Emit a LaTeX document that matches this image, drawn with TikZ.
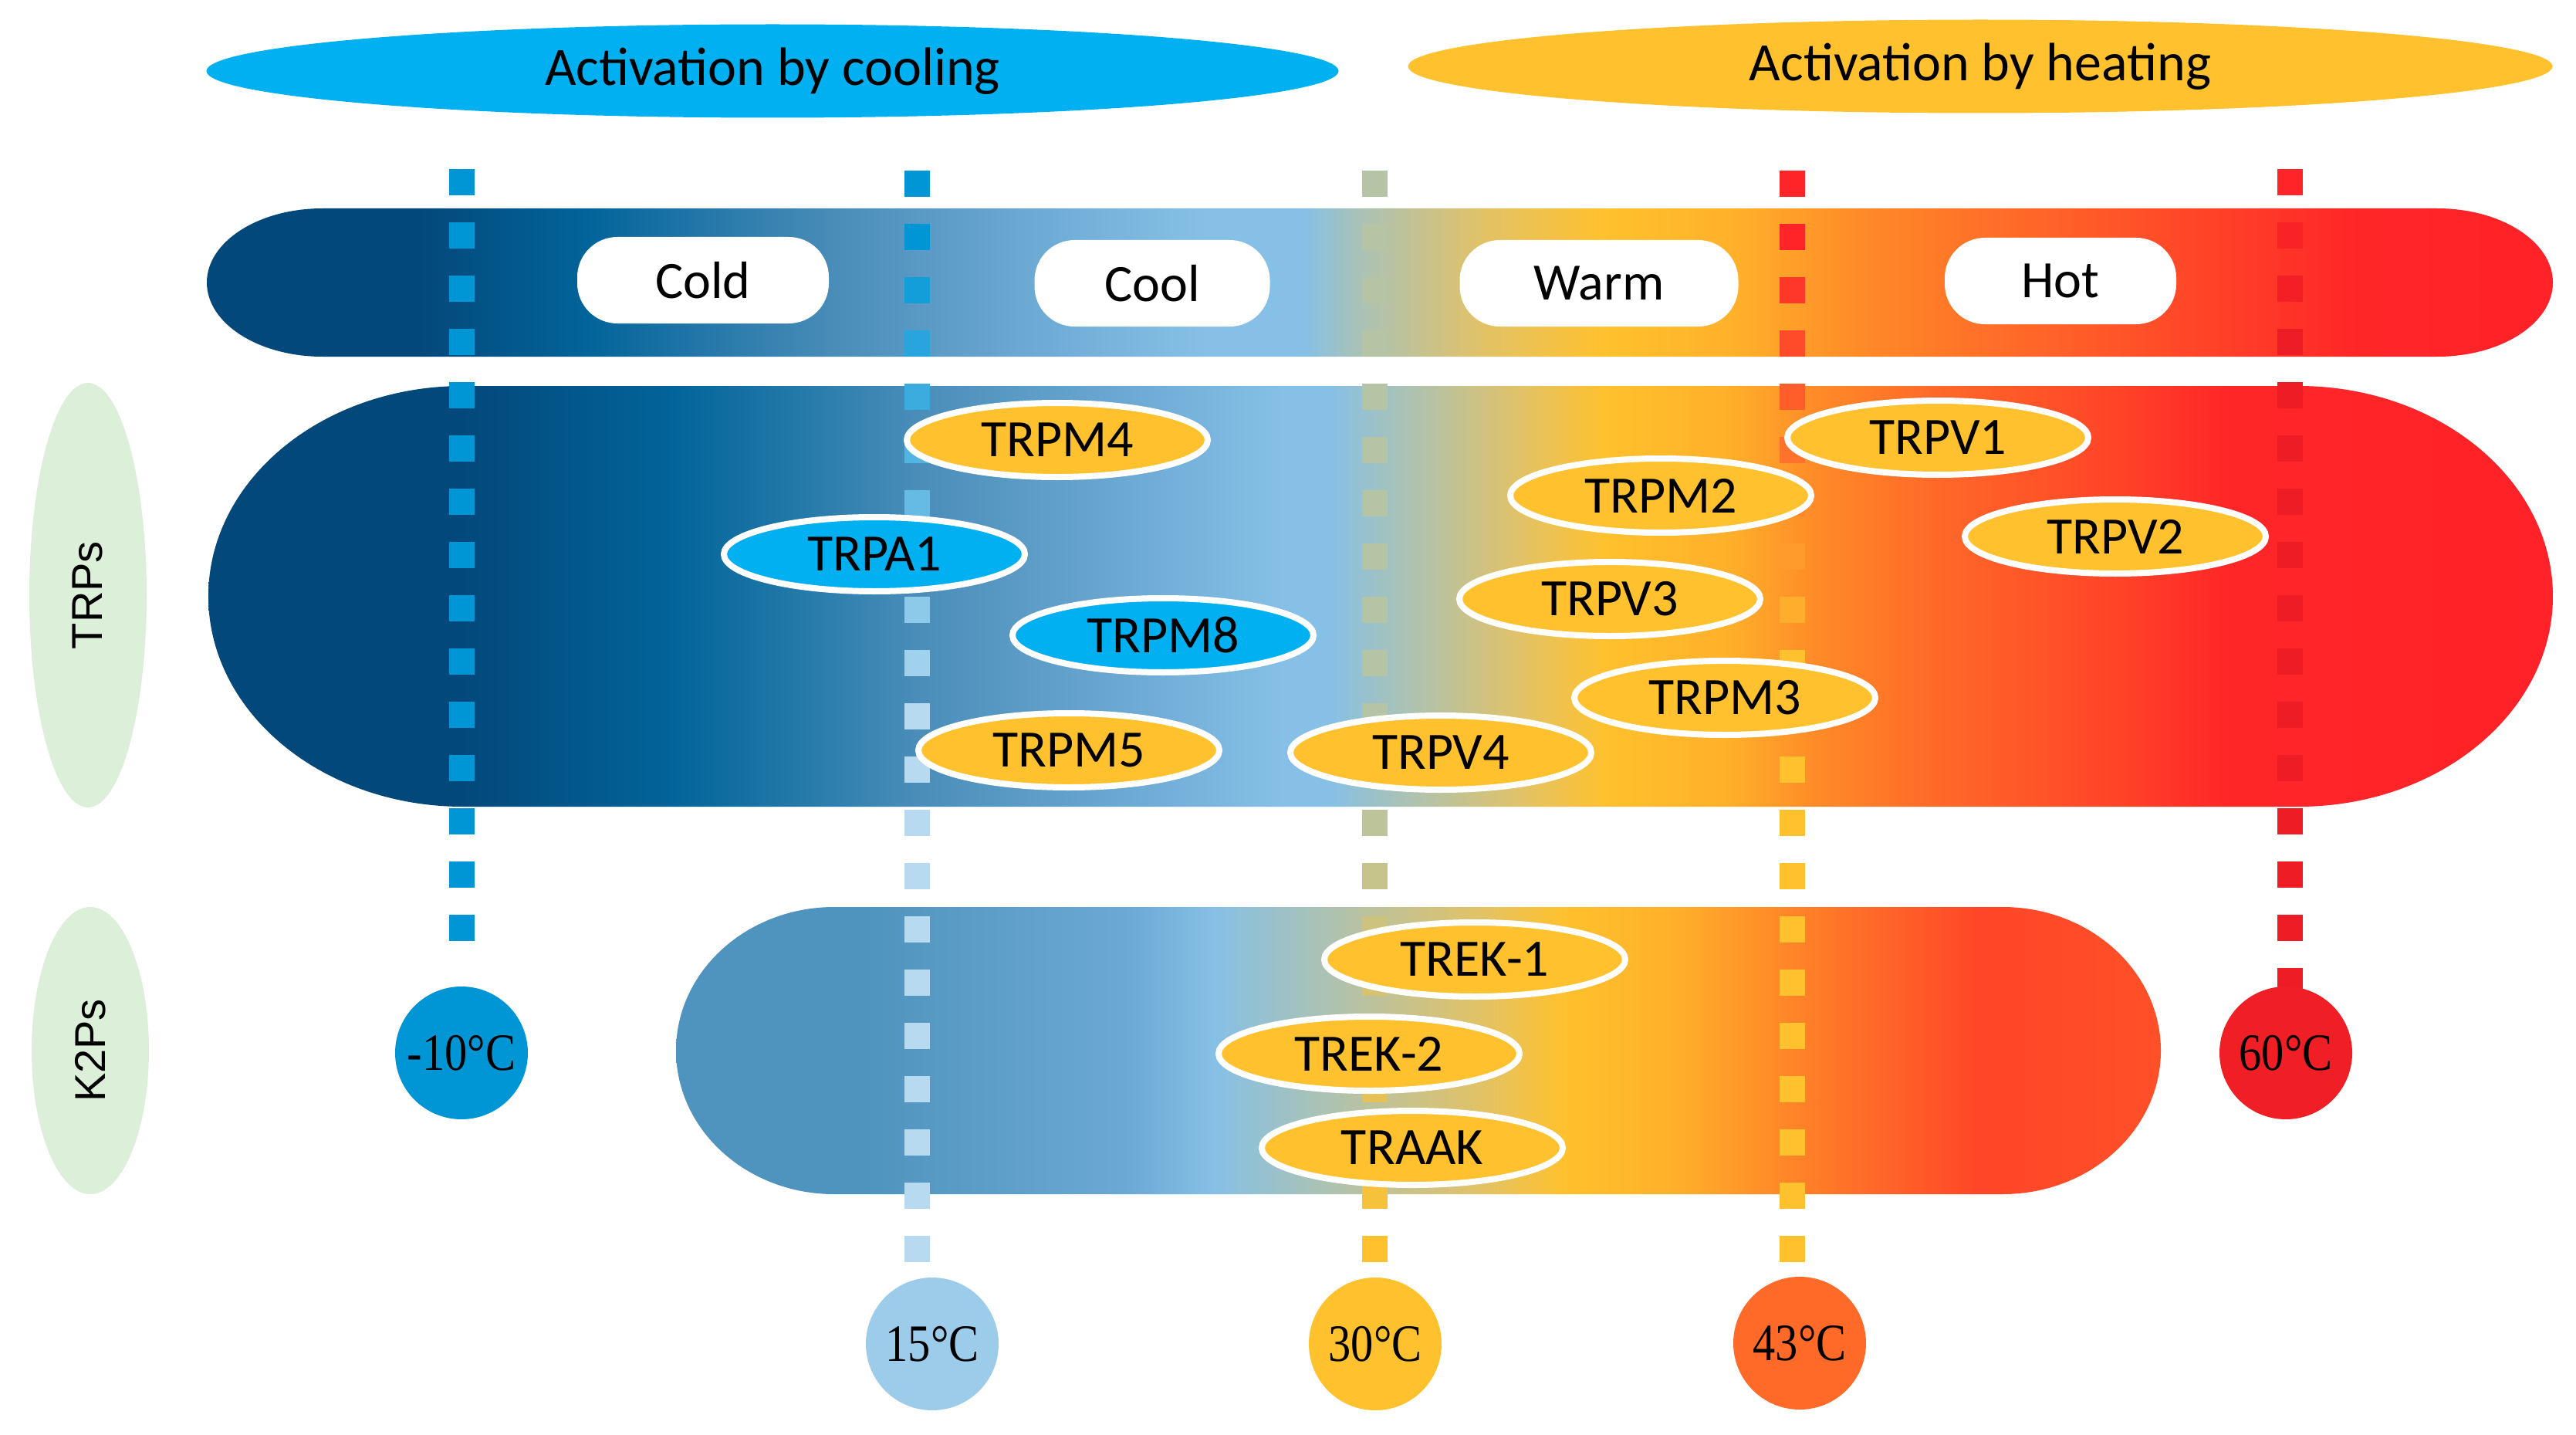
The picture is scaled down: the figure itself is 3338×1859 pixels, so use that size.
\documentclass[tikz,border=0pt]{standalone}
\usepackage{fontspec}
\setmainfont{Carlito}
\newfontfamily\degfont[FakeStretch=0.86]{Liberation Serif}
\newfontfamily\sidefont{Liberation Sans}
\usepackage{tikz}
\usetikzlibrary{shapes.geometric}

% band colours, cold to hot
\definecolor{tnavy}{HTML}{03487A}
\definecolor{tdeep}{HTML}{02649A}
\definecolor{tmid}{HTML}{2279A8}
\definecolor{tsteel}{HTML}{4A8DB9}
\definecolor{tskyish}{HTML}{6CA9D3}
\definecolor{tsky}{HTML}{86C0E6}
\definecolor{tsage}{HTML}{A8C2B8}
\definecolor{tkhaki}{HTML}{E2C266}
\definecolor{tgold}{HTML}{FFC12D}
\definecolor{tamber}{HTML}{FFB02A}
\definecolor{torange}{HTML}{FF8C28}
\definecolor{ttanger}{HTML}{FF6828}
\definecolor{tvermil}{HTML}{FF4628}
\definecolor{tscarlet}{HTML}{FF2628}
\definecolor{tred}{HTML}{FF2228}
\definecolor{kblue}{HTML}{4F94BE}
\definecolor{korange}{HTML}{FF5028}
% marks and labels
\definecolor{chcool}{HTML}{00B0F0}
\definecolor{famgreen}{HTML}{DCEFD9}
\definecolor{dcold}{HTML}{0096D6}
\definecolor{dcool}{HTML}{B7DAF0}
\definecolor{dneutral}{HTML}{B6C4A6}
\definecolor{dhot}{HTML}{FF2428}
\definecolor{dsixty}{HTML}{EE1D25}
\definecolor{c15}{HTML}{9DCBEA}
\definecolor{c43}{HTML}{FF6A28}
\definecolor{c60}{HTML}{F01F26}

\pgfdeclarehorizontalshading{topbar}{100bp}{%
    color(0bp)=(tnavy); color(25bp)=(tnavy); color(29.5bp)=(tnavy);
    color(33.1bp)=(tdeep); color(38.4bp)=(tsteel); color(42.5bp)=(tskyish);
    color(46.3bp)=(tsky); color(48.4bp)=(tsky); color(49.5bp)=(tsage);
    color(52.2bp)=(tkhaki); color(54.8bp)=(tgold); color(57.6bp)=(tamber);
    color(60.1bp)=(torange); color(63.7bp)=(ttanger); color(67.3bp)=(tvermil);
    color(70.8bp)=(tscarlet); color(75bp)=(tred); color(100bp)=(tred)}

\pgfdeclarehorizontalshading{trpbar}{100bp}{%
    color(0bp)=(tnavy); color(25bp)=(tnavy); color(30.4bp)=(tnavy);
    color(34.9bp)=(tdeep); color(37.5bp)=(tmid); color(40.1bp)=(tsteel);
    color(44.6bp)=(tskyish); color(47.9bp)=(tsky); color(48.9bp)=(tsky);
    color(50.4bp)=(tsage); color(53bp)=(tkhaki); color(54.8bp)=(tgold);
    color(57.4bp)=(tamber); color(59.2bp)=(torange); color(61.9bp)=(ttanger);
    color(65.5bp)=(tvermil); color(68.1bp)=(tscarlet); color(75bp)=(tred);
    color(100bp)=(tred)}

\pgfdeclarehorizontalshading{kbar}{100bp}{%
    color(0bp)=(kblue); color(25bp)=(kblue); color(31.3bp)=(kblue);
    color(40.3bp)=(tskyish); color(43.1bp)=(tsky); color(46.5bp)=(tsage);
    color(52.1bp)=(tkhaki); color(54.9bp)=(tgold); color(58.6bp)=(tamber);
    color(61.9bp)=(torange); color(65.3bp)=(ttanger); color(68.9bp)=(tvermil);
    color(75bp)=(korange); color(100bp)=(korange)}

\tikzset{%
    bigtext/.style={font=\fontsize{68}{72}\selectfont},
    banner/.style={ellipse, font=\fontsize{70}{74}\selectfont, inner sep=0pt,
        minimum height=121pt},
    zone/.style={rectangle, rounded corners=52pt, fill=white, bigtext,
        minimum height=112pt, inner sep=0pt},
    channel/.style={ellipse, draw=white, line width=8pt, bigtext,
        minimum width=390pt, minimum height=96pt, inner sep=0pt},
    coldch/.style={channel, fill=chcool},
    warmch/.style={channel, fill=tgold},
    family/.style={ellipse, fill=famgreen, rotate=90, minimum height=152pt,
        inner sep=0pt, font=\sidefont\fontsize{56}{60}\selectfont},
    temp/.style={circle, minimum size=172pt, inner sep=0pt,
        font=\degfont\fontsize{68}{72}\selectfont}
}

\begin{document}
\begin{tikzpicture}[x=1pt, y=-1pt]

    \useasboundingbox (0, 0) rectangle (3338, 1859);

    % the three bands
    \shade[shading=topbar] (418, 270) -- (3158, 270)
        arc[start angle=-90, end angle=90, x radius=150, y radius=96]
        -- (418, 462)
        arc[start angle=90, end angle=270, x radius=150, y radius=96]
        -- cycle;
    \shade[shading=trpbar] (600, 500) -- (2978, 500)
        arc[start angle=-90, end angle=90, x radius=330, y radius=272.5]
        -- (600, 1045)
        arc[start angle=90, end angle=270, x radius=330, y radius=272.5]
        -- cycle;
    \shade[shading=kbar] (1081, 1175) -- (2595, 1175)
        arc[start angle=-90, end angle=90, x radius=205, y radius=186]
        -- (1081, 1547)
        arc[start angle=90, end angle=270, x radius=205, y radius=186]
        -- cycle;

    % dashed temperature lines
    \coordinate (lnminus) at (598, 219);
    \coordinate (lnfifteen) at (1188, 221);
    \coordinate (lnthirty) at (1781, 221);
    \coordinate (lnfortythree) at (2322, 221);
    \coordinate (lnsixty) at (2967, 219);

    \foreach \lname/\kmax/\ka/\kb/\ctop/\cbot in {%
            lnminus/14/0/1/dcold/dcold,
            lnfifteen/20/1/10/dcold/dcool,
            lnthirty/20/11/20/dneutral/tgold,
            lnfortythree/20/1/9/dhot/tgold,
            lnsixty/15/0/3/dhot/dsixty}{%
        \foreach \k in {0, ..., \kmax}{%
            \pgfmathtruncatemacro\mix{100*min(1, max(0, (\k-\ka)/(\kb-\ka)))}
            \fill[\cbot!\mix!\ctop] ([shift={(-16.5, 69*\k)}] \lname)
                rectangle ++(33, 34);
        };
    };

    \node[banner, fill=chcool, minimum width=1467pt] (cooling) at (1001, 92)
        {Activation by cooling};
    \node[banner, fill=tgold, minimum width=1483pt] (heating) at (2566, 86)
        {Activation by heating};

    \node[zone, minimum width=326pt] (cold) at (911, 363) {Cold};
    \node[zone, minimum width=305pt] (cool) at (1493, 367) {Cool};
    \node[zone, minimum width=361pt] (warm) at (2072, 367) {Warm};
    \node[zone, minimum width=300pt] (hot) at (2670, 364) {Hot};

    \node[family, minimum width=550pt] (trps) at (114, 771) {TRPs};
    \node[family, minimum width=372pt] (k2ps) at (117, 1361) {K2Ps};

    % TRP channels
    \node[warmch] (trpm4) at (1370, 570) {TRPM4};
    \node[coldch] (trpa1) at (1133, 718) {TRPA1};
    \node[coldch] (trpm8) at (1507, 823) {TRPM8};
    \node[warmch] (trpm5) at (1385, 972) {TRPM5};
    \node[warmch] (trpv4) at (1867, 975) {TRPV4};
    \node[warmch] (trpm2) at (2152, 642) {TRPM2};
    \node[warmch] (trpv1) at (2511, 567) {TRPV1};
    \node[warmch] (trpv2) at (2741, 695) {TRPV2};
    \node[warmch] (trpv3) at (2086, 776) {TRPV3};
    \node[warmch] (trpm3) at (2235, 904) {TRPM3};

    % K2P channels
    \node[warmch] (trek1) at (1911, 1243) {TREK-1};
    \node[warmch] (trek2) at (1774, 1365) {TREK-2};
    \node[warmch] (traak) at (1830, 1487) {TRAAK};

    \node[temp, fill=dcold] (tminus) at (598, 1364) {-10°C};
    \node[temp, fill=c15] (tfifteen) at (1208, 1741) {15°C};
    \node[temp, fill=tgold] (tthirty) at (1782, 1741) {30°C};
    \node[temp, fill=c43] (tfortythree) at (2332, 1740) {43°C};
    \node[temp, fill=c60] (tsixty) at (2962, 1364) {60°C};

\end{tikzpicture}
\end{document}
